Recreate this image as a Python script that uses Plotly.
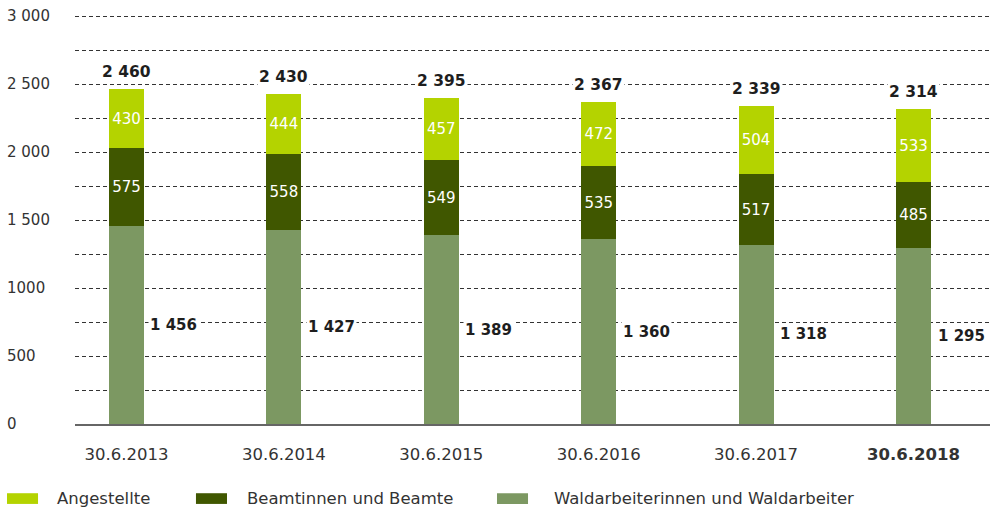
import plotly.graph_objects as go

# Personalstand nach Beschäftigtengruppen (Stichtag jeweils 30.6.)
categories = ["30.6.2013", "30.6.2014", "30.6.2015", "30.6.2016", "30.6.2017", "30.6.2018"]
waldarbeiter = [1456, 1427, 1389, 1360, 1318, 1295]
beamte = [575, 558, 549, 535, 517, 485]
angestellte = [430, 444, 457, 472, 504, 533]
totals = [2460, 2430, 2395, 2367, 2339, 2314]

series_names = ["Angestellte", "Beamtinnen und Beamte", "Waldarbeiterinnen und Waldarbeiter"]
y_tick_vals = [0, 500, 1000, 1500, 2000, 2500, 3000]
y_tick_text = ["0", "500", "1000", "1 500", "2 000", "2 500", "3 000"]

COL_ANG = "#b4d300"
COL_BEA = "#405700"
COL_WALD = "#7c9862"
FONT = "DejaVu Sans"
TXT = "#333333"
DARK = "#1e1e1e"


def fmt(v):
    return f"{v:,}".replace(",", " ")


fig = go.Figure()
BAR_W = 0.222

fig.add_trace(go.Bar(
    x=categories, y=waldarbeiter, name=series_names[2],
    marker=dict(color=COL_WALD, line=dict(width=0)), width=BAR_W,
    hoverinfo="skip",
))
fig.add_trace(go.Bar(
    x=categories, y=beamte, name=series_names[1],
    marker=dict(color=COL_BEA, line=dict(width=0)), width=BAR_W,
    text=[str(v) for v in beamte], textposition="inside", insidetextanchor="middle",
    textangle=0, constraintext="none",
    textfont=dict(family=FONT, size=15, color="white"),
    hoverinfo="skip",
))
fig.add_trace(go.Bar(
    x=categories, y=angestellte, name=series_names[0],
    marker=dict(color=COL_ANG, line=dict(width=0)), width=BAR_W,
    text=[str(v) for v in angestellte], textposition="inside", insidetextanchor="middle",
    textangle=0, constraintext="none",
    textfont=dict(family=FONT, size=15, color="white"),
    hoverinfo="skip",
))

annotations = []
# totals above each stack
for c, t in zip(categories, totals):
    annotations.append(dict(
        x=c, y=t, xref="x", yref="y", text=f"<b>{fmt(t)}</b>", showarrow=False,
        yshift=17, font=dict(family=FONT, size=15.5, color=DARK),
        bgcolor="white", borderpad=1,
    ))
# bottom segment values to the right of each bar
for c, v in zip(categories, waldarbeiter):
    annotations.append(dict(
        x=c, y=v / 2, xref="x", yref="y", text=f"<b>{fmt(v)}</b>", showarrow=False,
        xanchor="left", xshift=22, font=dict(family=FONT, size=15, color=DARK),
        bgcolor="white", borderpad=1,
    ))
# y tick labels, left aligned
for v, t in zip(y_tick_vals, y_tick_text):
    annotations.append(dict(
        x=-0.0765, y=v, xref="paper", yref="y", text=t, showarrow=False,
        xanchor="left", yanchor="middle", font=dict(family=FONT, size=15, color=TXT),
    ))

# legend drawn as swatches + labels below the axis
legend_items = [
    (series_names[0], COL_ANG, -0.0743, -0.0404, -0.0219),
    (series_names[1], COL_BEA, 0.1322, 0.1661, 0.1858),
    (series_names[2], COL_WALD, 0.4612, 0.4951, 0.5213),
]
shapes = []
for name, col, sx0, sx1, tx in legend_items:
    shapes.append(dict(type="rect", xref="paper", yref="paper", x0=sx0, x1=sx1,
                       y0=-0.194, y1=-0.168, fillcolor=col, line=dict(width=0)))
    annotations.append(dict(
        x=tx, y=-0.181, xref="paper", yref="paper", text=name, showarrow=False,
        xanchor="left", yanchor="middle", font=dict(family=FONT, size=16.5, color=TXT),
    ))

tick_text = [c if i < len(categories) - 1 else f"<b>{c}</b>" for i, c in enumerate(categories)]

fig.update_layout(
    barmode="stack",
    width=990, height=511,
    margin=dict(l=75, r=0, t=12, b=87),
    paper_bgcolor="white", plot_bgcolor="white",
    showlegend=False,
    annotations=annotations,
    shapes=shapes,
    font=dict(family=FONT, color=TXT),
    xaxis=dict(
        type="category", range=[-0.327, 5.486],
        tickvals=categories, ticktext=tick_text,
        tickfont=dict(family=FONT, size=16.5, color=TXT),
        showline=True, linecolor="#666666", linewidth=1.5,
        showgrid=False, ticks="", ticklabelstandoff=14,
        fixedrange=True,
    ),
    yaxis=dict(
        range=[0, 3029.4], dtick=250, tick0=0,
        showticklabels=False, showgrid=True,
        gridcolor="#333333", gridwidth=1, griddash="4px,3px",
        zeroline=False, showline=False, ticks="",
        fixedrange=True,
    ),
)

fig.write_html("out.html", config={"displayModeBar": False})
